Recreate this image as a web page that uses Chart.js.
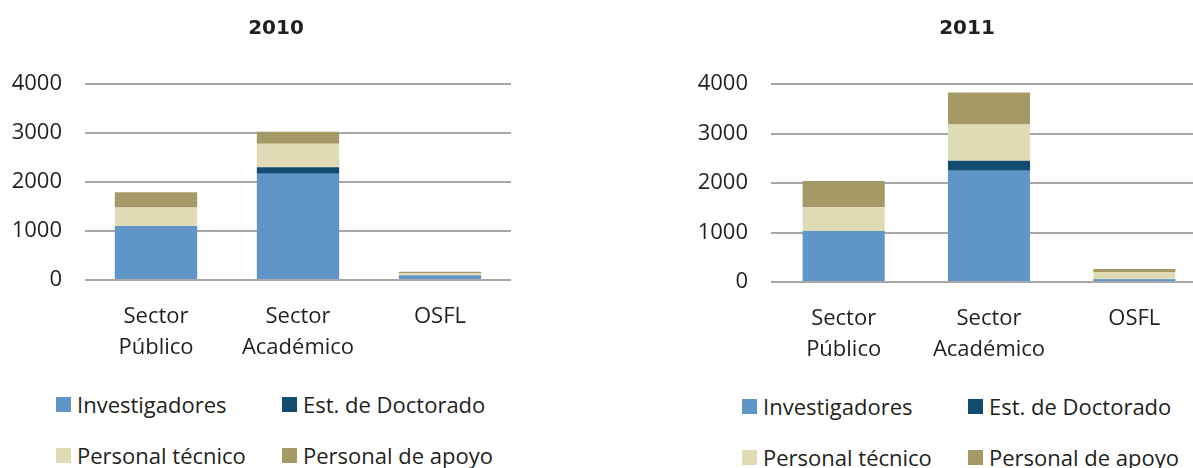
<!DOCTYPE html>
<html>
<head>
<meta charset="utf-8">
<script src="https://cdn.jsdelivr.net/npm/chart.js@4/dist/chart.umd.min.js"></script>
<style>
  body { margin: 0; background: #fff; overflow: hidden; width: 1193px; height: 468px; position: relative; font-family: "Open Sans", sans-serif; color: #231f20; }
  .box { position: absolute; top: 0; }
  .legend { position: absolute; font-size: 22px; }
  .item { position: absolute; white-space: nowrap; display: flex; align-items: center; }
  .sw { width: 15px; height: 15px; margin-right: 6px; display: inline-block; }
</style>
</head>
<body>
<div class="box" style="left:0"><canvas id="c2010" width="552" height="380"></canvas></div>
<div class="box" style="left:686px"><canvas id="c2011" width="562" height="380"></canvas></div>
<div id="leg2010" class="legend" style="left:56px; top:389px"></div>
<div id="leg2011" class="legend" style="left:742px; top:391px"></div>
<script>
// categories and series
const categories = [['Sector', 'Público'], ['Sector', 'Académico'], 'OSFL'];
const seriesNames = ['Investigadores', 'Est. de Doctorado', 'Personal técnico', 'Personal de apoyo'];
const seriesColors = ['#6095c8', '#134a70', '#dfdbb5', '#a59a65'];
const yTicks = [0, 1000, 2000, 3000, 4000];

// 2010
const inv2010 = [1100, 2170, 90];
const doc2010 = [0, 130, 5];
const tec2010 = [380, 480, 45];
const apo2010 = [310, 245, 30];

// 2011
const inv2011 = [1030, 2250, 55];
const doc2011 = [0, 200, 5];
const tec2011 = [480, 730, 140];
const apo2011 = [530, 650, 65];

const txt = '#231f20';
const gridColor = '#a8a8a8';

// centre the title over the whole canvas, not only the padded area
const titleSpan = {
    id: 'titleSpan',
    afterLayout(chart) {
        if (chart.titleBlock) {
            chart.titleBlock.left = 0;
            chart.titleBlock.right = chart.width;
        }
    }
};

function makeChart(id, title, series, barPct, xHeight) {
    const ctx = document.getElementById(id).getContext('2d');
    return new Chart(ctx, {
        type: 'bar',
        data: {
            labels: categories,
            datasets: series.map((vals, i) => ({
                label: seriesNames[i],
                data: vals,
                backgroundColor: seriesColors[i],
                borderWidth: 0,
                categoryPercentage: 1,
                barPercentage: barPct
            }))
        },
        options: {
            responsive: false,
            devicePixelRatio: 1,
            animation: false,
            layout: { padding: { right: 41 } },
            plugins: {
                legend: { display: false },
                tooltip: { enabled: false },
                title: {
                    display: true,
                    text: title,
                    color: txt,
                    font: { family: 'DejaVu Sans', size: 20, weight: 'bold' },
                    padding: { top: 17, bottom: 43 }
                }
            },
            scales: {
                x: {
                    stacked: true,
                    grid: { display: false, drawTicks: false },
                    border: { display: false },
                    ticks: { color: txt, padding: 21, font: { family: 'Open Sans', size: 22, lineHeight: 1.42 } },
                    afterFit: s => { s.height = xHeight; }
                },
                y: {
                    stacked: true,
                    min: yTicks[0],
                    max: yTicks[yTicks.length - 1],
                    afterBuildTicks: s => { s.ticks = yTicks.map(v => ({ value: v })); },
                    grid: { color: gridColor, lineWidth: 2, drawTicks: false },
                    border: { display: false },
                    ticks: { color: txt, padding: 23, font: { family: 'Open Sans', size: 22 }, callback: v => String(v) },
                    afterFit: s => { s.width = 85; }
                }
            }
        },
        plugins: [titleSpan]
    });
}

function makeLegend(id) {
    const el = document.getElementById(id);
    el.innerHTML = seriesNames.map((name, i) => {
        const left = (i % 2) * 226;
        const top = Math.floor(i / 2) * 51;
        return `<div class="item" style="left:${left}px; top:${top}px"><span class="sw" style="background:${seriesColors[i]}"></span>${name}</div>`;
    }).join('');
}

makeChart('c2010', '2010', [inv2010, doc2010, tec2010, apo2010], 0.58, 100);
makeChart('c2011', '2011', [inv2011, doc2011, tec2011, apo2011], 0.565, 98);
makeLegend('leg2010');
makeLegend('leg2011');
</script>
</body>
</html>
